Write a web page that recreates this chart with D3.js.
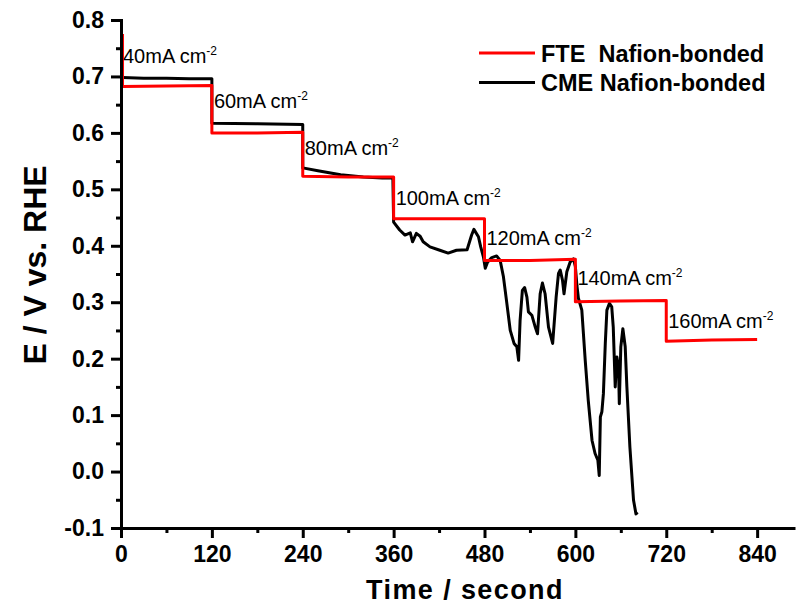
<!DOCTYPE html>
<html>
<head>
<meta charset="utf-8">
<script src="https://cdn.jsdelivr.net/npm/d3@7"></script>
<style>
  html, body { margin: 0; padding: 0; background: #fff; }
  svg { display: block; font-family: "Liberation Sans", Arial, sans-serif; }
</style>
</head>
<body>
<svg id="chart" width="798" height="610"></svg>
<script>
// Chronopotentiometry steps: potential vs time at increasing current density
const xTicks = [0, 120, 240, 360, 480, 600, 720, 840];
const xMinorTicks = [60, 180, 300, 420, 540, 660, 780];
const yTicks = [-0.1, 0.0, 0.1, 0.2, 0.3, 0.4, 0.5, 0.6, 0.7, 0.8];
const yTickLabels = ["-0.1", "0.0", "0.1", "0.2", "0.3", "0.4", "0.5", "0.6", "0.7", "0.8"];
const yMinorTicks = [-0.05, 0.05, 0.15, 0.25, 0.35, 0.45, 0.55, 0.65, 0.75];

// Current-density step labels: [time at step start, label]
const stepLabels = [
  [0, "40"], [120, "60"], [240, "80"], [360, "100"],
  [480, "120"], [600, "140"], [720, "160"]
];
const stepLabelY = [0.724, 0.644, 0.561, 0.472, 0.401, 0.331, 0.254];

// FTE Nafion-bonded: [time (s), E (V vs RHE)]
const fteTime = [2, 2, 60, 120, 120, 180, 240, 240, 300, 360, 360, 420, 480, 480, 540, 600, 600, 660, 720, 720, 780, 840];
const fteE = [0.775, 0.682, 0.683, 0.684, 0.600, 0.600, 0.601, 0.523, 0.522, 0.522, 0.448, 0.448, 0.448, 0.374, 0.374, 0.376, 0.301, 0.302, 0.303, 0.231, 0.233, 0.234];

// CME Nafion-bonded: [time (s), E (V vs RHE)]
const cmeTime = [2, 30, 60, 90, 120, 120, 180, 240, 240, 260, 290, 320, 345, 359, 360,
  368, 375, 382, 385, 390, 395, 399, 408, 421, 432, 443, 457, 463, 466, 472, 475, 478.6,
  481, 484, 489.6, 496, 500.7, 505, 509.5, 514, 519, 522.7, 525, 527, 530, 533, 536, 538,
  542.5, 547, 550, 553.5, 556.5, 560, 564.5, 570, 574.6, 577.7, 580, 583, 585, 588.7, 593,
  597.5, 600, 602, 604, 608.5, 613, 617, 622, 626, 629.7, 631.5, 633, 635, 637, 639.5,
  641.6, 645, 648, 650, 652.6, 654.8, 657, 658, 660, 662.7, 665.8, 668, 672, 676.8, 680, 682];
const cmeE = [0.698, 0.697, 0.697, 0.696, 0.696, 0.617, 0.616, 0.615, 0.538, 0.533, 0.526, 0.522, 0.520, 0.520, 0.442,
  0.428, 0.419, 0.423, 0.407, 0.422, 0.417, 0.407, 0.398, 0.392, 0.387, 0.392, 0.393, 0.419, 0.429, 0.416, 0.398, 0.380,
  0.360, 0.371, 0.379, 0.382, 0.374, 0.345, 0.298, 0.250, 0.227, 0.221, 0.197, 0.268, 0.321, 0.326, 0.309, 0.283,
  0.277, 0.256, 0.244, 0.315, 0.334, 0.315, 0.256, 0.227, 0.309, 0.351, 0.357, 0.339, 0.315, 0.354, 0.371,
  0.377, 0.363, 0.330, 0.307, 0.286, 0.197, 0.126, 0.055, 0.032, 0.020, -0.007, 0.097, 0.106, 0.138, 0.227,
  0.286, 0.298, 0.292, 0.256, 0.150, 0.203, 0.185, 0.120, 0.221, 0.253, 0.221, 0.150, 0.043, -0.051, -0.075, -0.072];

const series = [
  { name: "CME Nafion-bonded", color: "#000000", t: cmeTime, e: cmeE },
  { name: "FTE  Nafion-bonded", color: "#ff0000", t: fteTime, e: fteE }
];
const legendOrder = [series[1], series[0]];

const svg = d3.select("#chart");
const x = d3.scaleLinear().domain([0, 890]).range([121, 795]);
const y = d3.scaleLinear().domain([-0.1, 0.8]).range([528, 20]);

const line = d3.line().x(d => x(d[0])).y(d => y(d[1]));

// data lines (black underneath, red on top)
series.forEach(s => {
  svg.append("path")
    .datum(s.t.map((t, i) => [t, s.e[i]]))
    .attr("fill", "none")
    .attr("stroke", s.color)
    .attr("stroke-width", 3)
    .attr("stroke-linejoin", "round")
    .attr("d", line);
});

// axes
function styleAxis(g) {
  g.selectAll("path, line").attr("stroke", "#000").attr("stroke-width", 3);
  g.selectAll("text").attr("fill", "#000").attr("font-weight", "bold")
    .attr("font-size", 23).attr("font-family", "'Liberation Sans', Arial, sans-serif");
}

const xAxis = svg.append("g").attr("transform", `translate(0,${y(-0.1)})`)
  .call(d3.axisBottom(x).tickValues(xTicks).tickSize(10).tickSizeOuter(0).tickPadding(8)
    .tickFormat(d3.format("d")));
styleAxis(xAxis);
const xMinor = svg.append("g").attr("transform", `translate(0,${y(-0.1)})`)
  .call(d3.axisBottom(x).tickValues(xMinorTicks).tickSize(5).tickSizeOuter(0).tickFormat(""));
styleAxis(xMinor);
xMinor.select(".domain").remove();

const yAxis = svg.append("g").attr("transform", `translate(${x(0)},0)`)
  .call(d3.axisLeft(y).tickValues(yTicks).tickSize(10).tickSizeOuter(0).tickPadding(7)
    .tickFormat((d, i) => yTickLabels[i]));
styleAxis(yAxis);
const yMinor = svg.append("g").attr("transform", `translate(${x(0)},0)`)
  .call(d3.axisLeft(y).tickValues(yMinorTicks).tickSize(5).tickSizeOuter(0).tickFormat(""));
styleAxis(yMinor);
yMinor.select(".domain").remove();
yAxis.select(".domain").attr("stroke-linecap", "square");

// axis titles
svg.append("text")
  .attr("x", 465).attr("y", 599)
  .attr("text-anchor", "middle")
  .attr("font-size", 27).attr("font-weight", "bold").attr("letter-spacing", 1.4)
  .text("Time / second");

svg.append("text")
  .attr("transform", "translate(46,265) rotate(-90)")
  .attr("text-anchor", "middle")
  .attr("font-size", 32).attr("font-weight", "bold")
  .text("E / V vs. RHE");

// current density labels
stepLabels.forEach(([t, lab], i) => {
  const txt = svg.append("text")
    .attr("x", x(t) + 2).attr("y", y(stepLabelY[i]))
    .attr("font-size", 20);
  txt.append("tspan").text(lab + "mA cm");
  txt.append("tspan").attr("dy", -8).attr("font-size", 12).text("-2");
});

// legend
const legend = svg.append("g");
legendOrder.forEach((s, i) => {
  const ly = 53 + i * 29.5;
  legend.append("line")
    .attr("x1", 479).attr("x2", 535).attr("y1", ly).attr("y2", ly)
    .attr("stroke", s.color).attr("stroke-width", 3);
  legend.append("text")
    .attr("x", 541).attr("y", ly + 8.5)
    .attr("font-size", 23.5).attr("font-weight", "bold")
    .attr("xml:space", "preserve")
    .style("white-space", "pre")
    .text(s.name);
});
</script>
</body>
</html>
